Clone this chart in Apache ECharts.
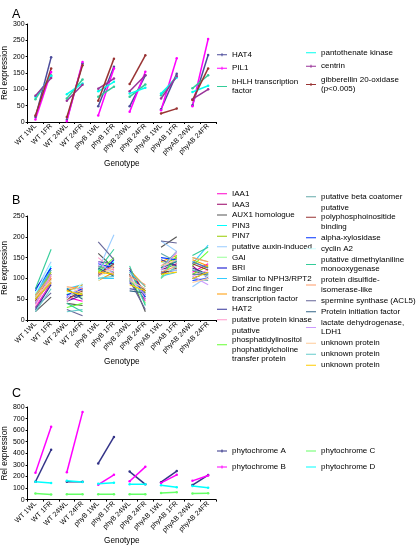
<!DOCTYPE html>
<html><head><meta charset="utf-8">
<script src="https://cdn.jsdelivr.net/npm/echarts@6/dist/echarts.min.js"></script>
<style>html,body{margin:0;padding:0;background:#fff}#c{width:416px;height:546px}</style>
</head><body><div id="c"></div>
<script>
const categories = ['WT 1WL','WT 1FR','WT 24WL','WT 24FR','phyB 1WL','phyB 1FR','phyB 24WL','phyB 24FR','phyAB 1WL','phyAB 1FR','phyAB 24WL','phyAB 24FR'];

// Panel A
const genesA = ['HAT4','PIL1','bHLH transcription factor','pantothenate kinase','centrin','gibberellin 20-oxidase (p<0.005)'];
const colorsA = ['#4b4b9b','#ff00ff','#33cc99','#00ffee','#993399','#993333'];
const HAT4 = [15,198,7,179,48,169,48,143,39,148,51,205];
const PIL1 = [8,153,2,184,20,164,31,154,36,195,48,254];
const bHLH = [70,143,72,130,77,108,77,115,82,140,103,143];
const pantothenate = [77,140,85,118,94,123,87,105,87,136,92,111];
const centrin = [80,135,65,114,102,133,94,143,72,140,70,100];
const gibberellin = [20,164,15,174,65,194,116,204,26,41,67,164];
const valuesA = [HAT4,PIL1,bHLH,pantothenate,centrin,gibberellin];

// Panel B
const genesB = ['IAA1','IAA3','AUX1 homologue','PIN3','PIN7','putative auxin-induced','GAI','BRI','Similar to NPH3/RPT2','Dof zinc finger transcription factor','HAT2','putative protein kinase','putative phosphatidylinositol phophatidylcholine transfer protein',
  'putative beta coatomer','putative polyphosphoinositide binding','alpha-xylosidase','cyclin A2','putative dimethylaniline monooxygenase','protein disulfide-isomerase-like','spermine synthase (ACL5)','Protein initiation factor','lactate dehydrogenase, LDH1','unknown protein','unknown protein ','unknown protein  '];
const colorsB = ['#ff00cc','#990066','#555555','#00ffff','#99cc00','#99ccff','#99ff99','#0000cc','#33ccff','#ff9900','#333399','#ff99cc','#66ff33',
  '#66aaaa','#993333','#0033ff','#ccffff','#33cc99','#ff9966','#666699','#336688','#cc99ff','#ffcc99','#66cccc','#ffcc00'];
const IAA1 = [30,90,55,45,130,120,100,45,110,150,115,135];
const IAA3 = [40,100,60,75,115,110,125,60,120,135,130,100];
const AUX1 = [20,55,40,35,160,125,110,20,175,200,120,105];
const PIN3 = [60,130,70,80,110,140,95,70,110,145,140,125];
const PIN7 = [55,115,50,65,120,110,105,65,130,150,110,130];
const auxinInduced = [70,140,60,70,120,205,115,60,190,165,80,105];
const GAI = [45,95,65,55,125,130,100,55,140,125,150,140];
const BRI = [75,125,55,60,105,145,90,50,115,120,100,115];
const NPH3 = [65,120,75,85,100,100,95,75,105,115,135,180];
const Dof = [50,100,70,85,95,115,120,80,140,155,145,130];
const HAT2 = [25,85,45,60,140,135,75,70,145,130,125,110];
const proteinKinase = [35,105,45,75,150,120,105,50,130,160,105,120];
const phosphatidyl = [60,110,30,40,115,150,100,40,100,155,130,165];
const betaCoatomer = [55,120,60,70,130,115,115,55,160,140,100,95];
const polyphospho = [45,110,50,70,110,135,110,70,110,125,135,120];
const alphaXyl = [70,125,60,75,135,125,120,55,150,145,95,100];
const cyclinA2 = [65,135,50,90,95,130,115,35,120,120,110,105];
const dimethyl = [75,170,40,20,120,170,130,35,125,165,155,175];
const disulfide = [60,105,80,75,110,130,105,85,115,130,150,140];
const spermine = [30,65,25,10,188,145,95,25,190,185,140,125];
const initiation = [50,90,75,50,125,105,70,65,125,140,110,110];
const lactate = [40,110,55,80,140,110,100,60,120,165,105,85];
const unknown1 = [55,95,80,65,105,125,95,75,130,145,90,100];
const unknown2 = [20,75,20,25,100,105,115,80,100,130,120,110];
const unknown3 = [50,90,70,60,115,110,85,70,110,115,100,115];
const valuesB = [IAA1,IAA3,AUX1,PIN3,PIN7,auxinInduced,GAI,BRI,NPH3,Dof,HAT2,proteinKinase,phosphatidyl,
  betaCoatomer,polyphospho,alphaXyl,cyclinA2,dimethyl,disulfide,spermine,initiation,lactate,unknown1,unknown2,unknown3];

// Panel C
const genesC = ['phytochrome A','phytochrome B','phytochrome C','phytochrome D'];
const colorsC = ['#333388','#ff00ff','#66ff66','#00ffff'];
const phyA = [154,431,154,154,313,541,242,132,151,247,126,212];
const phyB = [231,629,236,756,129,214,159,283,144,214,162,209];
const phyC = [52,44,46,46,46,46,46,46,58,63,52,55];
const phyD = [154,143,162,152,137,146,132,132,124,107,118,102];
const valuesC = [phyA,phyB,phyC,phyD];

const wrap = {
  'bHLH transcription factor':'bHLH transcription\nfactor',
  'gibberellin 20-oxidase (p<0.005)':'gibberellin 20-oxidase\n(p<0.005)',
  'Dof zinc finger transcription factor':'Dof zinc finger\ntranscription factor',
  'putative phosphatidylinositol phophatidylcholine transfer protein':'putative\nphosphatidylinositol\nphophatidylcholine\ntransfer protein',
  'putative polyphosphoinositide binding':'putative\npolyphosphoinositide\nbinding',
  'putative dimethylaniline monooxygenase':'putative dimethylaniline\nmonooxygenase',
  'protein disulfide-isomerase-like':'protein disulfide-\nisomerase-like',
  'lactate dehydrogenase, LDH1':'lactate dehydrogenase,\nLDH1'
};
const fmt = n => wrap[n] || n.trim();
const FONT = 'Liberation Sans, Arial, sans-serif';

function build(genes, colors, values, idx, sym, width) {
  const out = [];
  genes.forEach((g, i) => {
    for (let k = 0; k < 6; k++) {
      const d = new Array(12).fill(null);
      d[2*k] = values[i][2*k];
      d[2*k+1] = values[i][2*k+1];
      out.push({
        type:'line', name:g, xAxisIndex:idx, yAxisIndex:idx, data:d,
        symbol: sym ? 'circle' : 'none', symbolSize: 2.5,
        lineStyle:{color:colors[i], width:width},
        itemStyle:{color:colors[i]},
        animation:false, silent:true
      });
    }
  });
  return out;
}

const grids = [
  {left:22, top:24, width:194, height:98},
  {left:22, top:216, width:194, height:104},
  {left:22, top:407, width:194, height:97}
];
const yCfg = [[300,50],[250,50],[800,100]];
const nameGaps = [35,26,35];

const xAxes = grids.map((g,i) => ({
  type:'category', gridIndex:i, data:categories, boundaryGap:true,
  name:'Genotype', nameLocation:'middle', nameGap:nameGaps[i],
  nameTextStyle:{fontSize:8.2, color:'#000', fontFamily:FONT},
  axisLine:{lineStyle:{color:'#000', width:1}},
  axisTick:{show:true, length:2, lineStyle:{color:'#000'}},
  axisLabel:{rotate:45, fontSize:7, color:'#000', margin:3, interval:0, fontFamily:FONT},
  splitLine:{show:false}
}));
const yAxes = grids.map((g,i) => ({
  type:'value', gridIndex:i, min:0, max:yCfg[i][0], interval:yCfg[i][1],
  name:'Rel expression', nameLocation:'middle', nameGap:12, nameRotate:90,
  nameTextStyle:{fontSize:8.2, color:'#000', fontFamily:FONT},
  axisLine:{show:true, lineStyle:{color:'#000', width:1}},
  axisTick:{show:true, length:2, lineStyle:{color:'#000'}},
  axisLabel:{fontSize:7, color:'#000', margin:3, fontFamily:FONT},
  splitLine:{show:false}
}));

// degenerate corner points keep the icon box 10 units tall so the stroke stays thin
const BOX = 'M0,0 L0.01,0 L0,0 Z M0,10 L0.01,10 L0,10 Z ';
const ICON_MARK = 'path://' + BOX + 'M0,4 L20,4 L20,6 L0,6 Z M9,2 L11,2 L11,8 L9,8 Z';
const ICON_LINE = 'path://' + BOX + 'M0,4 L20,4 L20,6 L0,6 Z';
function legend(data, left, top, lh, gap, icons) {
  return {
    data:data.map((n, i) => ({name:n, icon:icons[i]})), orient:'vertical', left:left, top:top, itemGap:gap, padding:0,
    itemWidth:10, itemHeight:8, selectedMode:false, formatter:fmt,
    textStyle:{fontSize:8, lineHeight:lh, color:'#000', fontFamily:FONT}
  };
}
const L = ICON_LINE, M = ICON_MARK;
const lines = n => new Array(n).fill(L);

const option = {
  backgroundColor:'#fff',
  animation:false,
  title:[
    {text:'A', left:7, top:3, textStyle:{fontSize:12.5, fontWeight:'normal', color:'#000', fontFamily:FONT}},
    {text:'B', left:7, top:189, textStyle:{fontSize:12.5, fontWeight:'normal', color:'#000', fontFamily:FONT}},
    {text:'C', left:7, top:382, textStyle:{fontSize:12.5, fontWeight:'normal', color:'#000', fontFamily:FONT}}
  ],
  grid:grids,
  xAxis:xAxes,
  yAxis:yAxes,
  legend:[
    legend(genesA.slice(0,3), 217, 50, 9.5, 4, [M, M, L]),
    legend(genesA.slice(3), 306, 48, 9.5, 4, [L, M, M]),
    legend(genesB.slice(0,13), 217, 189, 9.5, 1.1, lines(13)),
    legend(genesB.slice(13), 306, 192, 9.5, 1.5, lines(12)),
    legend(genesC.slice(0,2), 217, 446, 10, 6, [M, M]),
    legend(genesC.slice(2), 306, 446, 10, 6, [L, L])
  ],
  series:[].concat(
    build(genesA, colorsA, valuesA, 0, true, 1.5),
    build(genesB, colorsB, valuesB, 1, false, 1.1),
    build(genesC, colorsC, valuesC, 2, true, 1.5)
  )
};
echarts.init(document.getElementById('c'), null, {renderer:'canvas'}).setOption(option);
</script></body></html>
